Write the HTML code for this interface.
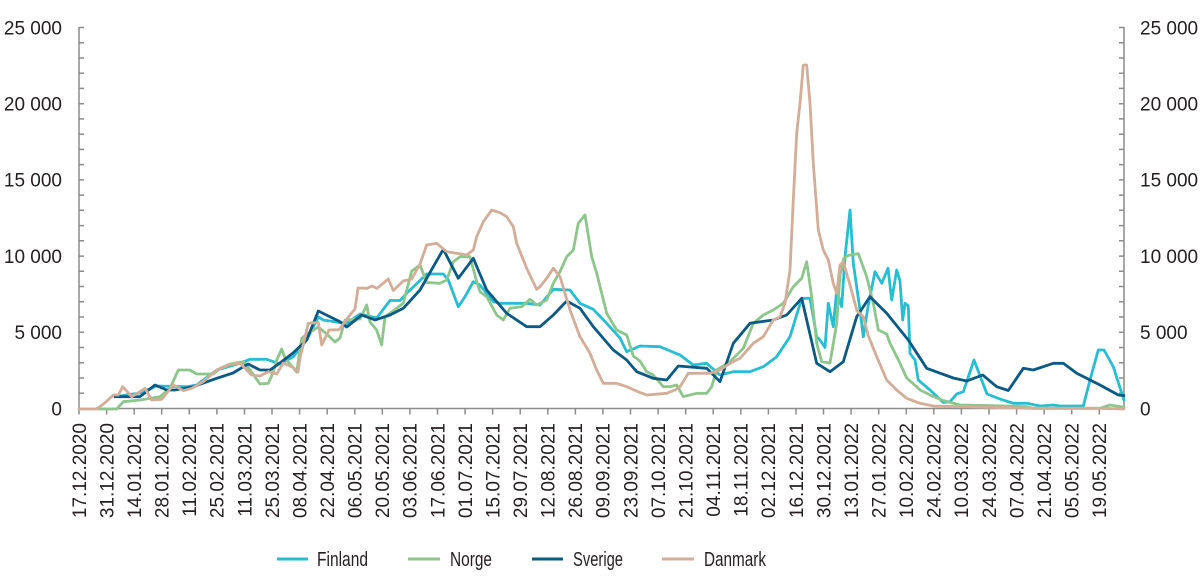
<!DOCTYPE html>
<html><head><meta charset="utf-8"><style>
html,body{margin:0;padding:0;background:#fff;}
svg{display:block;}
text{font-family:"Liberation Sans",sans-serif;fill:#231f20;}
</style></head><body>
<svg width="1200" height="587" viewBox="0 0 1200 587" xmlns="http://www.w3.org/2000/svg">
<g stroke="#8c8c8c" stroke-width="1.5" fill="none">
<line x1="79" y1="27" x2="79" y2="409.5"/>
<line x1="1124" y1="27" x2="1124" y2="409.5"/>
<line x1="79" y1="408.5" x2="1124" y2="408.5"/>
<path id="lt" d="M79 27.5h5M79 42.7h5M79 58h5M79 73.2h5M79 88.4h5M79 103.7h5M79 118.9h5M79 134.2h5M79 149.4h5M79 164.6h5M79 179.9h5M79 195.1h5M79 210.3h5M79 225.6h5M79 240.8h5M79 256.1h5M79 271.3h5M79 286.5h5M79 301.8h5M79 317h5M79 332.3h5M79 347.5h5M79 362.7h5M79 378h5M79 393.2h5"/>
<path d="M1124 27.5h-5M1124 42.7h-5M1124 58h-5M1124 73.2h-5M1124 88.4h-5M1124 103.7h-5M1124 118.9h-5M1124 134.2h-5M1124 149.4h-5M1124 164.6h-5M1124 179.9h-5M1124 195.1h-5M1124 210.3h-5M1124 225.6h-5M1124 240.8h-5M1124 256.1h-5M1124 271.3h-5M1124 286.5h-5M1124 301.8h-5M1124 317h-5M1124 332.3h-5M1124 347.5h-5M1124 362.7h-5M1124 378h-5M1124 393.2h-5"/>
<path d="M79 408.5v6M106.6 408.5v6M134.2 408.5v6M161.7 408.5v6M189.3 408.5v6M216.9 408.5v6M244.5 408.5v6M272 408.5v6M299.6 408.5v6M327.2 408.5v6M354.8 408.5v6M382.3 408.5v6M409.9 408.5v6M437.5 408.5v6M465.1 408.5v6M492.6 408.5v6M520.2 408.5v6M547.8 408.5v6M575.4 408.5v6M602.9 408.5v6M630.5 408.5v6M658.1 408.5v6M685.7 408.5v6M713.2 408.5v6M740.8 408.5v6M768.4 408.5v6M796 408.5v6M823.5 408.5v6M851.1 408.5v6M878.7 408.5v6M906.3 408.5v6M933.8 408.5v6M961.4 408.5v6M989 408.5v6M1016.6 408.5v6M1044.1 408.5v6M1071.7 408.5v6M1099.3 408.5v6"/>
</g>
<g font-size="19" text-anchor="end">
<text x="62" y="34.3">25 000</text>
<text x="62" y="110.5">20 000</text>
<text x="62" y="186.7">15 000</text>
<text x="62" y="262.9">10 000</text>
<text x="62" y="339.1">5 000</text>
<text x="62" y="415.3">0</text>
</g>
<g font-size="19" text-anchor="start">
<text x="1140" y="34.3">25 000</text>
<text x="1140" y="110.5">20 000</text>
<text x="1140" y="186.7">15 000</text>
<text x="1140" y="262.9">10 000</text>
<text x="1140" y="339.1">5 000</text>
<text x="1140" y="415.3">0</text>
</g>
<g font-size="19" text-anchor="end">
<text transform="translate(85.8,423) rotate(-90)">17.12.2020</text>
<text transform="translate(113.4,423) rotate(-90)">31.12.2020</text>
<text transform="translate(141,423) rotate(-90)">14.01.2021</text>
<text transform="translate(168.5,423) rotate(-90)">28.01.2021</text>
<text transform="translate(196.1,423) rotate(-90)">11.02.2021</text>
<text transform="translate(223.7,423) rotate(-90)">25.02.2021</text>
<text transform="translate(251.3,423) rotate(-90)">11.03.2021</text>
<text transform="translate(278.8,423) rotate(-90)">25.03.2021</text>
<text transform="translate(306.4,423) rotate(-90)">08.04.2021</text>
<text transform="translate(334,423) rotate(-90)">22.04.2021</text>
<text transform="translate(361.6,423) rotate(-90)">06.05.2021</text>
<text transform="translate(389.1,423) rotate(-90)">20.05.2021</text>
<text transform="translate(416.7,423) rotate(-90)">03.06.2021</text>
<text transform="translate(444.3,423) rotate(-90)">17.06.2021</text>
<text transform="translate(471.9,423) rotate(-90)">01.07.2021</text>
<text transform="translate(499.4,423) rotate(-90)">15.07.2021</text>
<text transform="translate(527,423) rotate(-90)">29.07.2021</text>
<text transform="translate(554.6,423) rotate(-90)">12.08.2021</text>
<text transform="translate(582.2,423) rotate(-90)">26.08.2021</text>
<text transform="translate(609.7,423) rotate(-90)">09.09.2021</text>
<text transform="translate(637.3,423) rotate(-90)">23.09.2021</text>
<text transform="translate(664.9,423) rotate(-90)">07.10.2021</text>
<text transform="translate(692.5,423) rotate(-90)">21.10.2021</text>
<text transform="translate(720,423) rotate(-90)">04.11.2021</text>
<text transform="translate(747.6,423) rotate(-90)">18.11.2021</text>
<text transform="translate(775.2,423) rotate(-90)">02.12.2021</text>
<text transform="translate(802.8,423) rotate(-90)">16.12.2021</text>
<text transform="translate(830.3,423) rotate(-90)">30.12.2021</text>
<text transform="translate(857.9,423) rotate(-90)">13.01.2022</text>
<text transform="translate(885.5,423) rotate(-90)">27.01.2022</text>
<text transform="translate(913.1,423) rotate(-90)">10.02.2022</text>
<text transform="translate(940.6,423) rotate(-90)">24.02.2022</text>
<text transform="translate(968.2,423) rotate(-90)">10.03.2022</text>
<text transform="translate(995.8,423) rotate(-90)">24.03.2022</text>
<text transform="translate(1023.4,423) rotate(-90)">07.04.2022</text>
<text transform="translate(1050.9,423) rotate(-90)">21.04.2022</text>
<text transform="translate(1078.5,423) rotate(-90)">05.05.2022</text>
<text transform="translate(1106.1,423) rotate(-90)">19.05.2022</text>
</g>
<g fill="none" stroke-width="2.8" stroke-linejoin="round" stroke-linecap="round">
<polyline stroke="#27bdd3" points="115,396.7 140,393 156.7,386 186.7,386.7 196.7,385 216.7,370 240,363.3 250,359.3 266.7,359.3 280,364 293.3,356.7 306.7,340 318.3,317 323.3,320 340,322.5 346.7,323.3 360,314 376.7,318 390,300.5 400,300.5 406.7,293.3 426.7,274 443.3,274 448.3,280 458.3,306.7 465,296.7 473.3,281.7 480,285 493.3,301.7 500,303.3 526.7,303.3 540,305 553.3,289.3 570,290 580,303.3 593.3,309.3 606.7,323.3 620,338 626.7,351.7 640,346 660,346.7 680,355 693.3,365 706.7,363.3 720,375 733.3,371.7 750,371.7 763.3,366.7 776.7,356.7 790,336.7 801.7,298.3 810,298.3 816.7,336.7 820,340 825,347.5 828.3,303.3 833.3,326.7 836.7,290 841.7,306.7 845,257 850,210 853.3,263.3 860,310 863.3,336.7 868.3,305 875,271.7 881.7,283.3 888,268.3 891.7,300 896.7,270 900,281 902.7,320 905,303.3 908.3,306 910,353.3 915,360 918.3,380 930,390 943.3,402.5 950,401.7 956.7,394 963.3,391.7 974,360 987,394 1000,399 1013.3,403.3 1026.7,403.3 1040,406 1053.3,405 1060,406 1083.3,406 1090,380 1098.3,350 1104,350 1113.3,366.7 1120.7,390 1124,400"/>
<polyline stroke="#8cc68a" points="98,409 116.7,409 123.3,401.7 140,400 160,396.7 170,388.3 178.3,370 190,370 196.7,374 213.3,374 220,368.3 230,364 243.3,361.7 250,370 260,384 268.3,383.3 273.3,372 276.7,360 281.7,349 285,358 293.3,368 296.7,372 301.7,338.3 308.3,333.3 318.3,327 326.7,334 335,342 340,338 345,320 360,319 366.7,305 370,322 376.7,330 381.7,345 385,316.7 396.7,308.3 403.3,303.3 411.7,271 420,265 426.7,282.5 440,283.3 446.7,280 453.3,261.7 460,256.7 470,256.7 476.7,281.7 480,291.7 486.7,296.7 496.7,315 503.3,320 510,308.3 521.7,306.7 530,299.3 536.7,305 546.7,300 553.3,283.3 560,271.7 566.7,256.7 573.3,250 578.3,223.3 585,215 591.7,256.7 596.7,273.3 606.7,313.3 616.7,330 626.7,335 633.3,356 640,361 646.7,371.7 653.3,375 663.3,386.7 670,386.7 676.7,385 683.3,396.7 696.7,393.3 706.7,393.3 711.7,386.7 716.7,370 730,361.7 743.3,348.3 753.3,323.3 763.3,315 773.3,310 783.3,303.3 793.3,286.7 801.7,278.3 806.7,261.7 811.7,296.7 816.7,343.3 821.7,361.7 830,363 836.7,323.3 840,275 844,258 848,255.5 858.3,253.5 866.7,276.7 873.3,303.3 878.3,330 886.7,334 890,343.3 900,363.3 906.7,378 916.7,386.7 920,390 933.3,396.5 943.3,400.5 960,405 986.7,405.5 1026.7,406.7 1033.3,408.3 1100,408.3 1110,405 1124,407.3"/>
<polyline stroke="#0b5a85" points="115,396.7 140,396.7 155,385 166.7,390 175,390 193.3,386.7 216.7,378.3 233,373 248,364 260,370 270,370 280,363 293,353 306.7,340 318.3,311 330,316.7 340,321.7 346.7,327 361.7,315 375,320 390,315 403.3,308.3 420,290 433.3,266.7 443.3,249.3 458.3,278.3 473.3,258.3 486.7,290 506.7,313.3 526.7,326.7 540,326.7 553.3,315 566.7,301 580,308.3 593.3,326.7 613.3,350 626.7,360 636.7,371.7 653.3,378.3 666.7,380 678.3,366 706.7,368.3 720,381.7 733.3,343.3 750,323.3 773.3,320 786.7,315 801.7,298.3 816.7,363.3 830,371.7 843.3,361.7 856.7,316.7 870,296.7 886.7,313.3 908.3,340 926.7,368.3 953.3,378 966.7,381 982.7,375 996.7,386.7 1008.3,390.5 1023.3,368.3 1033.3,370 1053.3,363.3 1063.3,363.3 1076.7,373.3 1100,385 1118.3,395 1124,395.7"/>
<polyline stroke="#d4ad98" points="79,409 96.7,409 105,402.7 113.3,395 118.3,395 122.7,386.7 131.7,396.7 138.3,392.7 145,388.3 151.7,400 161.7,399.3 173.3,385 183.3,390.7 191.7,388.3 203.3,381.7 216.7,370 230,364.5 240,363.3 251.7,375 260,376 268.3,371.7 276.7,374 283.3,363 293.3,367.5 298,372 300,358.3 308.3,323.3 318.3,322.5 321.7,345 329,330 339,329.7 345,321.7 350,315 355,309 358,288 367,288.3 372,286 377,288.3 388.3,279 393.3,290.5 403.3,281 411.7,279 420,264 426.7,245 436.7,243.3 446.7,251.7 456.7,253.3 466.7,255 473.3,250 476.7,236.7 483.3,221.7 491.7,210 500,212.7 506.7,216.7 513.3,226.7 516.7,243.3 526.7,268.3 536.7,289.3 540,286.7 546.7,278.3 553.3,268.3 560,276.7 570,310 580,336.7 590,353.3 596.7,370 603.3,383.3 616.7,383.3 626.7,386.7 640,392.5 646.7,395 666.7,393.3 675,390 680,386.7 688.3,373.3 710,373.3 720,370 730,363.3 740,358.3 753.3,343.3 763.3,336.7 773.3,320 780,316.7 785,303.3 790,270 793.3,200 796.7,133.3 800,103.3 803.3,65 806.7,65 810,103.3 813.3,163.3 818.3,230 823.3,250 828.3,260 833.3,283.3 836.7,293.3 840,265 843.3,262 850,285 857,311 863.3,316.7 868,335 876.7,356.7 886.7,380 896.7,390 906.7,398.3 920,403.3 933.3,406 960,406.7 1033.3,408.3 1100,408.3 1124,409"/>
</g>
<g stroke-width="3">
<line x1="277" y1="559" x2="308" y2="559" stroke="#27bdd3"/>
<line x1="408" y1="559" x2="440" y2="559" stroke="#8cc68a"/>
<line x1="532" y1="559" x2="563" y2="559" stroke="#0b5a85"/>
<line x1="662" y1="559" x2="694" y2="559" stroke="#d4ad98"/>
</g>
<g font-size="20">
<text x="317" y="566" textLength="51" lengthAdjust="spacingAndGlyphs">Finland</text>
<text x="450" y="566" textLength="42" lengthAdjust="spacingAndGlyphs">Norge</text>
<text x="573" y="566" textLength="50" lengthAdjust="spacingAndGlyphs">Sverige</text>
<text x="704" y="566" textLength="62" lengthAdjust="spacingAndGlyphs">Danmark</text>
</g>
</svg>
</body></html>
